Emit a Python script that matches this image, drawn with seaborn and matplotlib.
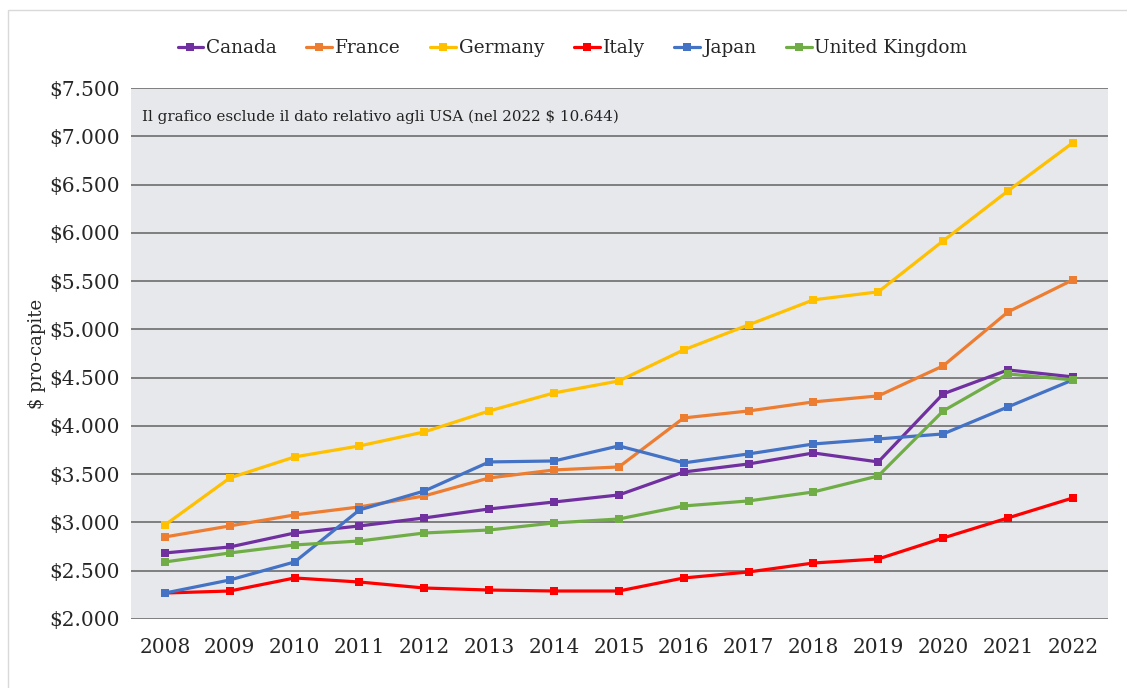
import matplotlib
matplotlib.use("Agg")
import matplotlib.pyplot as plt
from matplotlib.patches import Rectangle
from matplotlib.ticker import FuncFormatter, MultipleLocator
import seaborn as sns
import pandas as pd

years = list(range(2008, 2023))

canada = [2684, 2746, 2891, 2964, 3047, 3140, 3212, 3285, 3523, 3606, 3720, 3627, 4332, 4580, 4508]
france = [2850, 2964, 3078, 3161, 3275, 3461, 3544, 3575, 4083, 4155, 4249, 4311, 4622, 5181, 5513]
germany = [2974, 3461, 3679, 3793, 3938, 4155, 4342, 4466, 4788, 5047, 5306, 5389, 5917, 6435, 6933]
italy = [2269, 2290, 2425, 2383, 2321, 2300, 2290, 2290, 2425, 2487, 2580, 2622, 2839, 3047, 3254]
japan = [2269, 2404, 2591, 3130, 3326, 3627, 3637, 3793, 3617, 3710, 3813, 3865, 3917, 4197, 4477]
uk = [2591, 2684, 2767, 2808, 2891, 2922, 2995, 3036, 3171, 3223, 3316, 3482, 4155, 4539, 4477]

countries = ["Canada", "France", "Germany", "Italy", "Japan", "United Kingdom"]
series = [canada, france, germany, italy, japan, uk]
colors = ["#7030A0", "#ED7D31", "#FFC000", "#FF0000", "#4472C4", "#70AD47"]

note = "Il grafico esclude il dato relativo agli USA (nel 2022 $ 10.644)"

rows = []
for name, vals in zip(countries, series):
    for y, v in zip(years, vals):
        rows.append({"anno": y, "paese": name, "valore": v})
df = pd.DataFrame(rows)

sns.set_style("white")
plt.rcParams["font.family"] = ["DejaVu Serif"]

fig = plt.figure(figsize=(11.27, 6.88), dpi=100)
ax = fig.add_axes([0.1162, 0.1003, 0.8668, 0.7717])
ax.set_facecolor("#E7E8EC")

sns.lineplot(data=df, x="anno", y="valore", hue="paese", palette=colors,
             marker="s", markersize=6, markeredgewidth=0, linewidth=2.3,
             dashes=False, ax=ax)

ax.set_ylim(2000, 7500)
ax.set_xlim(2007.476, 2022.54)
ax.yaxis.set_major_locator(MultipleLocator(500))
ax.yaxis.set_major_formatter(FuncFormatter(lambda v, p: "$" + f"{v:,.0f}".replace(",", ".")))
ax.set_xticks(years)
ax.grid(axis="y", color="#7F7F7F", linewidth=1.4)
ax.set_axisbelow(True)
for s in ax.spines.values():
    s.set_visible(False)
ax.tick_params(axis="both", length=0, labelsize=14.5)
ax.tick_params(axis="x", pad=14)
ax.tick_params(axis="y", pad=8)
ax.set_xlabel("")
ax.set_ylabel("$ pro-capite", fontsize=13, labelpad=2)

ax.text(0.011, 0.945, note, transform=ax.transAxes, fontsize=10.9,
        va="center", ha="left", color="#222222")

handles, labels = ax.get_legend_handles_labels()
ax.legend(handles, labels, loc="center", bbox_to_anchor=(0.508, 0.9297),
          bbox_transform=fig.transFigure, ncol=6, frameon=False,
          fontsize=13.3, handlelength=1.4, handletextpad=0.15, columnspacing=1.6)

fig.add_artist(Rectangle((0.0071, -0.01), 1.0, 0.995, transform=fig.transFigure,
                         fill=False, edgecolor="#D9D9D9", linewidth=1))

fig.savefig("out.png", dpi=100)
